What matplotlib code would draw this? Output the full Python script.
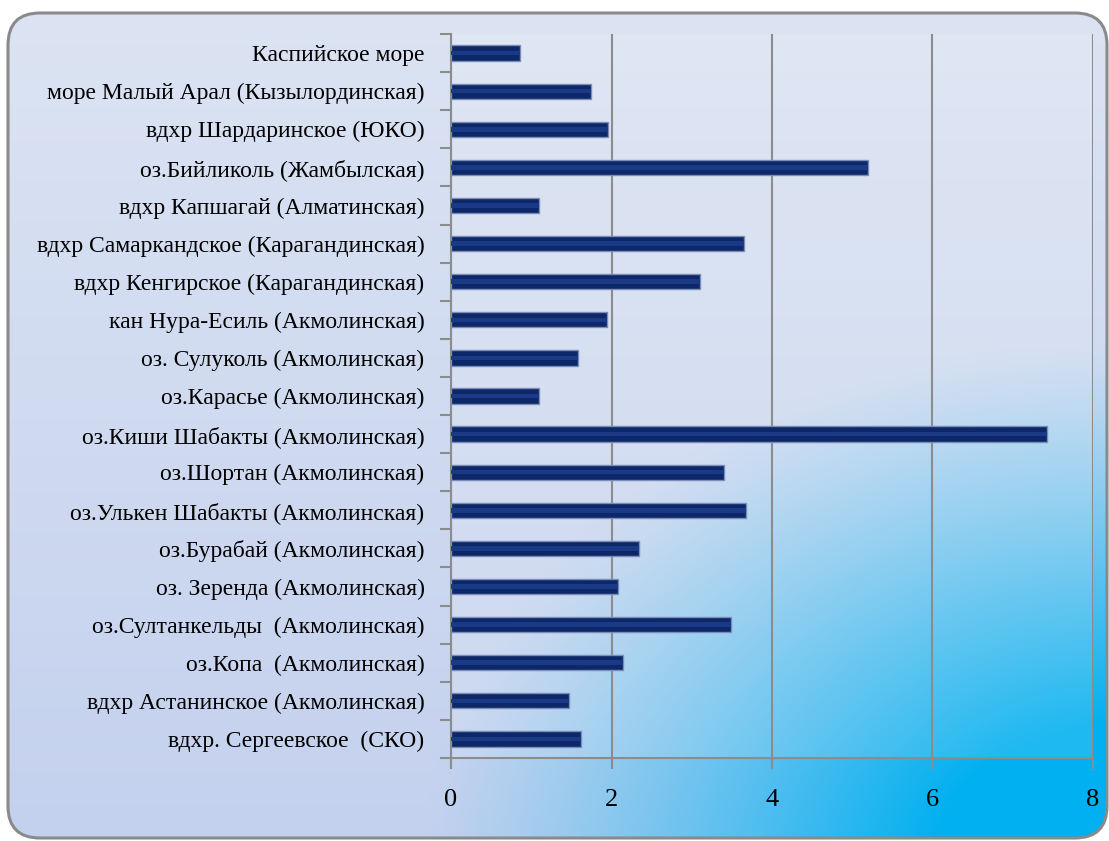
import numpy as np
import matplotlib
matplotlib.use("Agg")
import matplotlib.pyplot as plt
from matplotlib.patches import FancyBboxPatch
from matplotlib.ticker import FixedLocator

categories = [
    "Каспийское море",
    "море Малый Арал (Кызылординская)",
    "вдхр Шардаринское (ЮКО)",
    "оз.Бийликоль (Жамбылская)",
    "вдхр Капшагай (Алматинская)",
    "вдхр Самаркандское (Карагандинская)",
    "вдхр Кенгирское (Карагандинская)",
    "кан Нура-Есиль (Акмолинская)",
    "оз. Сулуколь (Акмолинская)",
    "оз.Карасье (Акмолинская)",
    "оз.Киши Шабакты (Акмолинская)",
    "оз.Шортан (Акмолинская)",
    "оз.Улькен Шабакты (Акмолинская)",
    "оз.Бурабай (Акмолинская)",
    "оз. Зеренда (Акмолинская)",
    "оз.Султанкельды  (Акмолинская)",
    "оз.Копа  (Акмолинская)",
    "вдхр Астанинское (Акмолинская)",
    "вдхр. Сергеевское  (СКО)",
]
values = [0.86, 1.74, 1.96, 5.20, 1.10, 3.65, 3.10, 1.94, 1.58, 1.10,
          7.43, 3.40, 3.68, 2.34, 2.08, 3.49, 2.14, 1.47, 1.62]
xticks = [0, 2, 4, 6, 8]

W, H = 1109, 841
fig = plt.figure(figsize=(W / 100, H / 100), dpi=100)
fig.patch.set_facecolor("white")

# background panel with gradient
bg = fig.add_axes([0, 0, 1, 1])
bg.set_xlim(0, W)
bg.set_ylim(H, 0)
bg.axis("off")
yy, xx = np.mgrid[0:H, 0:W].astype(float)
top = np.array([0xdc, 0xe4, 0xf3]) / 255
bot = np.array([0xc4, 0xd1, 0xee]) / 255
fy = (yy / H)[..., None]
base = top * (1 - fy) + bot * fy
cyan = np.array([0x00, 0xb0, 0xf0]) / 255
d = np.sqrt(((xx - 1120) / 700) ** 2 + ((yy - 860) / 520) ** 2)
t = np.clip(1.35 * (1 - d), 0, 1) ** 1.2
t = t[..., None]
img = base * (1 - t) + cyan * t
panel = FancyBboxPatch((8, 13), W - 8 - 2, H - 13 - 3,
                       boxstyle="round,pad=0,rounding_size=32",
                       facecolor="none", edgecolor="#8a8a8a", linewidth=2.2,
                       transform=bg.transData, zorder=3)
im = bg.imshow(img, extent=(0, W, H, 0), aspect="auto", zorder=1)
bg.add_patch(panel)
im.set_clip_path(panel)

# main axes
ax = fig.add_axes([451 / W, 1 - 758 / H, (1093 - 451) / W, (758 - 34) / H])
ax.set_facecolor((1, 1, 1, 0.12))
y = np.arange(len(categories))
ax.barh(y, values, height=0.40, color="#0c2868", edgecolor="#7c8cb8",
        linewidth=1.0, zorder=3)
ax.barh(y, values, height=0.12, color="#1a3a88", linewidth=0, zorder=4)
ax.set_ylim(len(categories) - 0.5, -0.5)
ax.set_xlim(0, 8)
ax.set_xticks(xticks)
ax.set_xticklabels([str(v) for v in xticks])
ax.set_yticks(y)
ax.set_yticklabels(categories)
ax.yaxis.set_minor_locator(FixedLocator(np.arange(-0.5, len(categories), 1.0)))
ax.tick_params(axis="y", which="major", length=0, pad=19)
ax.tick_params(axis="y", which="minor", length=8, width=1.5, color="#8c8c8c",
               direction="out")
ax.tick_params(axis="x", length=8, width=1.5, color="#8c8c8c", direction="out",
               pad=14)
for lab in ax.get_yticklabels():
    lab.set_fontfamily("Liberation Serif")
    lab.set_fontsize(17)
for lab in ax.get_xticklabels():
    lab.set_fontfamily("Liberation Serif")
    lab.set_fontsize(19)
ax.grid(axis="x", color="#8c8c8c", linewidth=1.5, zorder=1)
ax.set_axisbelow(True)
for s in ["top", "right"]:
    ax.spines[s].set_visible(False)
for s in ["left", "bottom"]:
    ax.spines[s].set_color("#8c8c8c")
    ax.spines[s].set_linewidth(1.5)

fig.savefig("out.png", dpi=100)
